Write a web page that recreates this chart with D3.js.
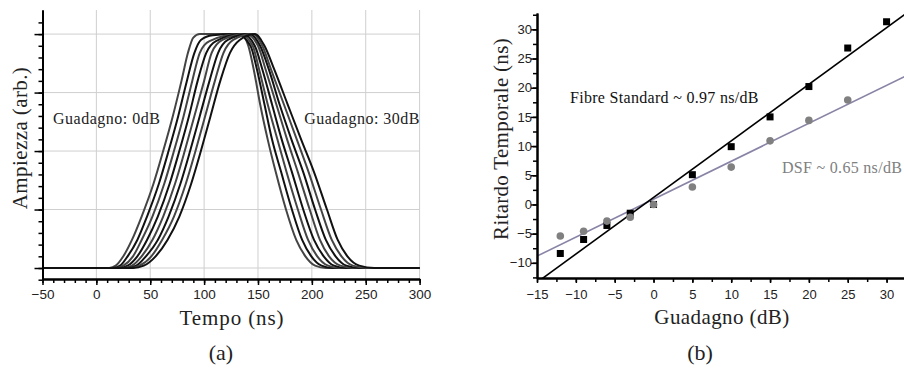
<!DOCTYPE html>
<html><head><meta charset="utf-8">
<script src="https://cdn.jsdelivr.net/npm/d3@7"></script>
<style>body{margin:0;background:#fff} svg{display:block}</style>
</head><body>
<svg id="c" width="904" height="372"></svg>
<script>
// ---------- Panel (a) data ----------
const riseLevels = [0, 0.01, 0.05, 0.12, 0.22, 0.36, 0.50, 0.65, 0.80, 0.92];
const riseTimes = [
  [12,18,25,33,42,53,62,71,79,85],
  [15,22,29,38,47,58,67,76,84,91],
  [18,25,34,42,52,63,72,81,89,96],
  [21,29,38,47,57,68,77,86,94,102],
  [25,33,42,52,62,73,82,91,100,107],
  [28,37,46,57,67,78,87,96,105,113],
  [31,40,51,61,72,83,92,101,110,118],
  [34,44,55,66,77,88,97,106,115,124]
];
const topPoints = [
  [[90,0.985],[96,1.0],[134,1.0]],
  [[97,0.975],[108,0.995],[130,1.0]],
  [[105,0.97],[133,1.0]],
  [[111,0.97],[136,1.0]],
  [[117,0.975],[139,1.0]],
  [[122,0.975],[142,1.0]],
  [[127,0.975],[145,1.0]],
  [[133,0.975],[147,1.0]]
];
const fallLevels = [0.95, 0.85, 0.70, 0.55, 0.41, 0.25, 0.12, 0.05, 0.01, 0];
const fallTimes = [
  [141,146,152,159,166.5,176,185.5,194,203,213],
  [143,149,156,163,171.5,181.5,191,199.5,209,219.5],
  [145,151,159,168,176.5,187,196.5,205,215,226],
  [147,154,163,172,181.5,192,202,211,220.5,232],
  [150,157,167,177,187,198,207.5,216,226.5,239],
  [152,160,170,181,192,203,213,222,232,245],
  [154,162,174,186,197,208.5,218.5,227.5,238,251.5],
  [156,165,177.5,190,202,214,224,233,244,258]
];
const timeTicks = [-50, 0, 50, 100, 150, 200, 250, 300];
const labelA = ["Guadagno: 0dB", "Guadagno: 30dB"];

// ---------- Panel (b) data ----------
const stdGain  = [-12, -9, -6, -3, 0, 5, 10, 15, 20, 25, 30];
const stdDelay = [-8.4, -6.0, -3.6, -1.5, 0.0, 5.1, 9.9, 15.0, 20.2, 26.8, 31.3];
const dsfGain  = [-12, -9, -6, -3, 0, 5, 10, 15, 20, 25];
const dsfDelay = [-5.4, -4.6, -2.85, -2.2, 0.0, 3.0, 6.4, 10.9, 14.4, 17.9];
const stdFit = {slope: 0.97, intercept: 1.2};
const dsfFit = {slope: 0.65, intercept: 0.9};
const gainTicks = [-15, -10, -5, 0, 5, 10, 15, 20, 25, 30];
const delayTicks = [-10, -5, 0, 5, 10, 15, 20, 25, 30];

const svg = d3.select("#c");
const sans = "'Liberation Sans', Arial, sans-serif";
const serif = "'Liberation Serif', 'Times New Roman', serif";

// ================= Panel (a) =================
const xa = d3.scaleLinear().domain([-50, 300]).range([42.5, 419.6]);
const ya = d3.scaleLinear().domain([-0.047, 1.103]).range([279, 10]);

const ga = svg.append("g");
ga.append("g").selectAll("line").data(timeTicks.slice(1)).join("line")
  .attr("x1", d => xa(d)).attr("x2", d => xa(d)).attr("y1", ya(1.103)).attr("y2", ya(-0.047))
  .attr("stroke", "#cfcfcf").attr("stroke-width", 1);
ga.append("g").selectAll("line").data([0, 0.25, 0.5, 0.75, 1.0]).join("line")
  .attr("x1", xa(-50)).attr("x2", xa(300)).attr("y1", d => ya(d)).attr("y2", d => ya(d))
  .attr("stroke", "#cfcfcf").attr("stroke-width", 1);

const lineA = d3.line().x(d => xa(d[0])).y(d => ya(d[1])).curve(d3.curveMonotoneX);
const curves = riseTimes.map((rt, k) => {
  const pts = [[-50, 0]];
  rt.forEach((t, i) => pts.push([t, riseLevels[i]]));
  topPoints[k].forEach(p => pts.push(p));
  fallTimes[k].forEach((t, i) => pts.push([t, fallLevels[i]]));
  pts.push([300, 0]);
  return pts;
});
ga.append("g").selectAll("path").data(curves).join("path")
  .attr("d", lineA).attr("fill", "none")
  .attr("stroke", (d, i) => i % 2 ? "#111" : "#444")
  .attr("stroke-width", 2);

const xAxA = ga.append("g").attr("transform", `translate(0,${ya(-0.047)})`);
xAxA.call(d3.axisBottom(xa).tickValues(d3.range(-50, 301, 10)).tickSize(4).tickSizeOuter(0).tickFormat(""));
const xAxA2 = ga.append("g").attr("transform", `translate(0,${ya(-0.047)})`);
xAxA2.call(d3.axisBottom(xa).tickValues(timeTicks).tickSize(6).tickSizeOuter(0).tickFormat(d3.format("d")));
xAxA2.selectAll("text").attr("font-family", sans).attr("font-size", 13.5).attr("fill", "#222").attr("dy", "0.8em");
const yAxA = ga.append("g").attr("transform", `translate(${xa(-50)},0)`);
yAxA.call(d3.axisLeft(ya).tickValues(d3.range(0, 23).map(i => -0.05 + i * 0.05)).tickSize(4).tickSizeOuter(0).tickFormat(""));
const yAxA2 = ga.append("g").attr("transform", `translate(${xa(-50)},0)`);
yAxA2.call(d3.axisLeft(ya).tickValues([0, 0.25, 0.5, 0.75, 1.0]).tickSize(8).tickSizeOuter(0).tickFormat(""));
[xAxA, xAxA2, yAxA, yAxA2].forEach(g => {
  g.select(".domain").attr("stroke-width", 2);
  g.selectAll(".tick line").attr("stroke-width", 1.5);
});

ga.append("text").attr("x", 232).attr("y", 325).attr("text-anchor", "middle")
  .attr("font-family", serif).attr("font-size", 21).attr("letter-spacing", 0.9).attr("fill", "#222").text("Tempo (ns)");
ga.append("text").attr("transform", "translate(27,138) rotate(-90)").attr("text-anchor", "middle")
  .attr("font-family", serif).attr("font-size", 21).attr("letter-spacing", 0.4).attr("fill", "#222").text("Ampiezza (arb.)");
ga.append("text").attr("x", 53).attr("y", 124)
  .attr("font-family", serif).attr("font-size", 16).attr("letter-spacing", 0.5).attr("fill", "#222").text(labelA[0]);
ga.append("text").attr("x", 420).attr("y", 124).attr("text-anchor", "end")
  .attr("font-family", serif).attr("font-size", 16).attr("letter-spacing", 0.5).attr("fill", "#222").text(labelA[1]);
ga.append("text").attr("x", 221).attr("y", 360).attr("text-anchor", "middle")
  .attr("font-family", serif).attr("font-size", 22).attr("fill", "#222").text("(a)");

// ================= Panel (b) =================
const xb = d3.scaleLinear().domain([-15, 32.5]).range([537, 906]);
const yb = d3.scaleLinear().domain([-12.6, 32.8]).range([278, 13]);
const gb = svg.append("g");
gb.append("clipPath").attr("id", "clipb").append("rect")
  .attr("x", 537).attr("y", 13).attr("width", 370).attr("height", 265);

const fitLine = f => [[-15, f.intercept - 15 * f.slope], [32.5, f.intercept + 32.5 * f.slope]];
const lineB = d3.line().x(d => xb(d[0])).y(d => yb(d[1]));
const lines = gb.append("g").attr("clip-path", "url(#clipb)");
lines.append("path").attr("d", lineB(fitLine(dsfFit))).attr("stroke", "#8884a6").attr("stroke-width", 1.6).attr("fill", "none");
lines.append("path").attr("d", lineB(fitLine(stdFit))).attr("stroke", "#000").attr("stroke-width", 1.6).attr("fill", "none");

gb.append("g").selectAll("rect").data(stdGain.map((g, i) => [g, stdDelay[i]])).join("rect")
  .attr("x", d => xb(d[0]) - 3.5).attr("y", d => yb(d[1]) - 3.5).attr("width", 7).attr("height", 7)
  .attr("fill", "#000");
gb.append("g").selectAll("circle").data(dsfGain.map((g, i) => [g, dsfDelay[i]])).join("circle")
  .attr("cx", d => xb(d[0])).attr("cy", d => yb(d[1])).attr("r", 3.8)
  .attr("fill", "#808080");

const xAxB = gb.append("g").attr("transform", `translate(0,278)`);
xAxB.call(d3.axisBottom(xb).tickValues(d3.range(-15, 32.6, 2.5)).tickSize(4).tickSizeOuter(0).tickFormat(""));
const xAxB2 = gb.append("g").attr("transform", `translate(0,278)`);
xAxB2.call(d3.axisBottom(xb).tickValues(gainTicks).tickSize(5).tickSizeOuter(0).tickFormat(d3.format("d")));
xAxB2.selectAll("text").attr("font-family", sans).attr("font-size", 13).attr("fill", "#222").attr("dy", "1.0em");
const yAxB = gb.append("g").attr("transform", `translate(537,0)`);
yAxB.call(d3.axisLeft(yb).tickValues(d3.range(-12.5, 32.6, 2.5)).tickSize(4).tickSizeOuter(0).tickFormat(""));
const yAxB2 = gb.append("g").attr("transform", `translate(537,0)`);
yAxB2.call(d3.axisLeft(yb).tickValues(delayTicks).tickSize(6).tickSizeOuter(0).tickFormat(d3.format("d")));
yAxB2.selectAll("text").attr("font-family", sans).attr("font-size", 13).attr("fill", "#222").attr("dx", "0.3em");
[xAxB, xAxB2, yAxB, yAxB2].forEach(g => {
  g.select(".domain").attr("stroke-width", 2);
  g.selectAll(".tick line").attr("stroke-width", 1.5);
});

gb.append("text").attr("x", 570).attr("y", 103)
  .attr("font-family", serif).attr("font-size", 16).attr("letter-spacing", 0.3).attr("fill", "#111").text("Fibre Standard ~ 0.97 ns/dB");
gb.append("text").attr("x", 782).attr("y", 173)
  .attr("font-family", serif).attr("font-size", 16).attr("letter-spacing", 0.3).attr("fill", "#808080").text("DSF ~ 0.65 ns/dB");
gb.append("text").attr("x", 722).attr("y", 324).attr("text-anchor", "middle")
  .attr("font-family", serif).attr("font-size", 21).attr("letter-spacing", 0.4).attr("fill", "#222").text("Guadagno (dB)");
gb.append("text").attr("transform", "translate(508,139) rotate(-90)").attr("text-anchor", "middle")
  .attr("font-family", serif).attr("font-size", 21).attr("letter-spacing", 0.3).attr("fill", "#222").text("Ritardo Temporale (ns)");
gb.append("text").attr("x", 700).attr("y", 360).attr("text-anchor", "middle")
  .attr("font-family", serif).attr("font-size", 22).attr("fill", "#222").text("(b)");
</script>
</body></html>
